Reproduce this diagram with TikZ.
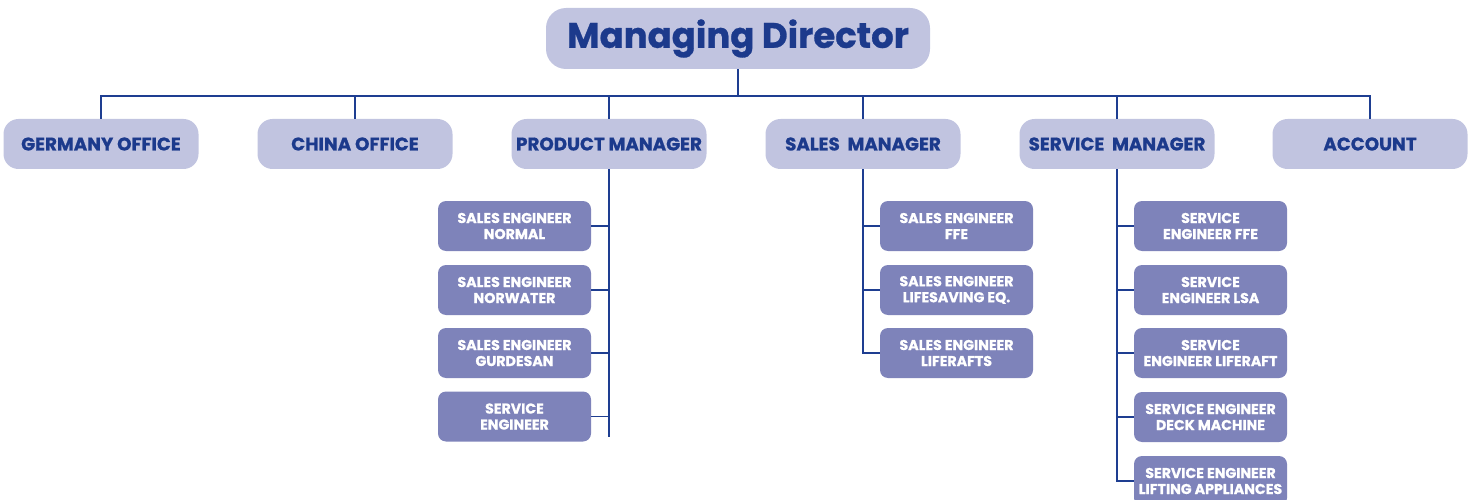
\documentclass[tikz,border=0pt]{standalone}
\usepackage{fontspec}
\setmainfont{Poppins}[BoldFont={* Bold}]
\newfontfamily\heavy{Poppins}[UprightFont={* Bold}, FakeBold=0.8]
\definecolor{light}{RGB}{193,196,224}
\definecolor{dark}{RGB}{126,131,186}
\definecolor{navy}{RGB}{28,58,140}
\definecolor{linec}{RGB}{30,62,145}
\tikzset{
  topbox/.style={fill=light, rounded corners=20pt, minimum width=384pt, minimum height=61pt, inner sep=0pt, text=navy, font=\fontsize{35.5}{38}\heavy},
  midbox/.style={fill=light, rounded corners=15pt, minimum width=195pt, minimum height=50pt, inner sep=0pt, text=navy, font=\fontsize{18.3}{20}\heavy},
  subbox/.style={fill=dark, rounded corners=8pt, minimum width=153pt, minimum height=50pt, inner sep=0pt, text=white, align=center, font=\fontsize{14.2}{16}\heavy},
  conn/.style={draw=linec, line width=1.3pt}
}
\begin{document}
\begin{tikzpicture}[x=1pt,y=-1pt]
\useasboundingbox (0,0) rectangle (1478,500);
\clip (0,0) rectangle (1478,500);
\node[topbox] (md) at (738,38.5) {\raisebox{-2pt}{Managing Director}};
\node[midbox] (ger) at (101,144) {GERMANY OFFICE};
\node[midbox] (chi) at (355,144) {CHINA OFFICE};
\node[midbox] (pm) at (609,144) {PRODUCT MANAGER};
\node[midbox] (sm) at (863,144) {SALES\ \ MANAGER};
\node[midbox] (svm) at (1117,144) {SERVICE\ \ MANAGER};
\node[midbox] (acc) at (1370,144) {ACCOUNT};
\coordinate (bus) at (738,96);
\draw[conn] (md.south) -- (bus);
\draw[conn] (ger.north) |- (bus) -| (acc.north);
\foreach \n in {chi,pm,sm,svm} \draw[conn] (\n.north) -- (\n.north |- bus);
% product manager children
\node[subbox] (p1) at (514.5,226) {SALES ENGINEER\\NORMAL};
\node[subbox] (p2) at (514.5,290) {SALES ENGINEER\\NORWATER};
\node[subbox] (p3) at (514.5,353) {SALES ENGINEER\\GURDESAN};
\node[subbox] (p4) at (514.5,416.5) {SERVICE\\ENGINEER};
\coordinate (pend) at (609,437);
\draw[conn] (pm.south) -- (pend);
\foreach \n in {p1,p2,p3,p4} \draw[conn] (\n.east) -- (\n.east -| pm.south);
% sales manager children
\node[subbox] (s1) at (956.5,226) {SALES ENGINEER\\FFE};
\node[subbox] (s2) at (956.5,290) {SALES ENGINEER\\LIFESAVING EQ.};
\node[subbox] (s3) at (956.5,353) {SALES ENGINEER\\LIFERAFTS};
\draw[conn] (sm.south) |- (s3.west);
\foreach \n in {s1,s2} \draw[conn] (\n.west) -- (\n.west -| sm.south);
% service manager children
\node[subbox] (v1) at (1210.5,226) {SERVICE\\ENGINEER FFE};
\node[subbox] (v2) at (1210.5,290) {SERVICE\\ENGINEER LSA};
\node[subbox] (v3) at (1210.5,353) {SERVICE\\ENGINEER LIFERAFT};
\node[subbox] (v4) at (1210.5,417) {SERVICE ENGINEER\\DECK MACHINE};
\node[subbox] (v5) at (1210.5,481) {SERVICE ENGINEER\\LIFTING APPLIANCES};
\draw[conn] (svm.south) |- (v5.west);
\foreach \n in {v1,v2,v3,v4} \draw[conn] (\n.west) -- (\n.west -| svm.south);
\end{tikzpicture}
\end{document}
